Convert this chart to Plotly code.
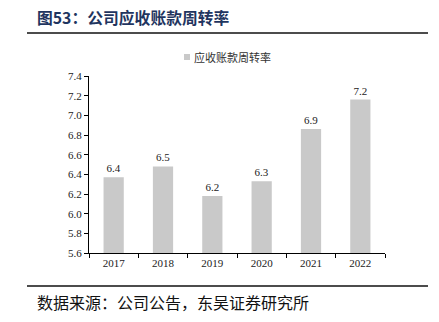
import plotly.graph_objects as go

years = ["2017", "2018", "2019", "2020", "2021", "2022"]
turnover = [6.37, 6.48, 6.18, 6.33, 6.86, 7.16]
labels = ["6.4", "6.5", "6.2", "6.3", "6.9", "7.2"]
y_ticks = [5.6, 5.8, 6.0, 6.2, 6.4, 6.6, 6.8, 7.0, 7.2, 7.4]
series_name = "应收账款周转率"
title_text = "图53：公司应收账款周转率"
source_text = "数据来源：公司公告，东吴证券研究所"

W, H = 439, 322
L, R, T, B = 89, 385, 76, 253
BAR_COLOR = "#c9c9c9"

fig = go.Figure()
fig.add_trace(go.Bar(
    x=years, y=turnover, name=series_name,
    marker=dict(color=BAR_COLOR, line=dict(width=0)),
    width=0.41,
    text=labels, textposition="outside", cliponaxis=False,
    textfont=dict(family="Liberation Serif", size=11, color="#222"),
))

fig.update_layout(
    width=W, height=H,
    margin=dict(l=L, r=W - R, t=T, b=H - B),
    paper_bgcolor="white", plot_bgcolor="white",
    showlegend=False,
)
fig.update_xaxes(
    type="category", showline=True, linecolor="black", linewidth=1,
    ticks="outside", ticklen=4, tickcolor="black", tickson="boundaries",
    tickfont=dict(family="Liberation Serif", size=11, color="#222"),
    showgrid=False,
)
fig.update_yaxes(
    range=[5.6, 7.4], tickvals=y_ticks, ticktext=[f"{v:.1f}" for v in y_ticks],
    showline=True, linecolor="black", linewidth=1,
    ticks="outside", ticklen=4, tickcolor="black",
    tickfont=dict(family="Liberation Serif", size=11, color="#222"),
    showgrid=False, zeroline=False,
)

def fx(p):
    return (p - L) / (R - L)

def fy(p):
    return (B - p) / (B - T)

shapes = [
    dict(type="line", xref="paper", yref="paper",
         x0=fx(27), x1=fx(428), y0=fy(33), y1=fy(33),
         line=dict(color="#111", width=1.5)),
    dict(type="line", xref="paper", yref="paper",
         x0=fx(27), x1=fx(428), y0=fy(286), y1=fy(286),
         line=dict(color="#111", width=1.5)),
    # legend swatch
    dict(type="rect", xref="paper", yref="paper",
         x0=fx(184), x1=fx(190), y0=fy(60), y1=fy(54),
         fillcolor=BAR_COLOR, line=dict(width=0)),
]
fig.update_layout(shapes=shapes)

fig.add_annotation(
    text=series_name, xref="paper", yref="paper",
    x=fx(192), y=fy(57), xanchor="left", yanchor="middle",
    showarrow=False, font=dict(family="Noto Sans CJK SC", size=11, color="#333"),
)
fig.add_annotation(
    text="<b>" + title_text + "</b>", xref="paper", yref="paper",
    x=fx(35), y=fy(18), xanchor="left", yanchor="middle",
    showarrow=False, font=dict(family="Noto Sans CJK SC", size=15.8, color="#1f3560"),
)
fig.add_annotation(
    text=source_text, xref="paper", yref="paper",
    x=fx(35), y=fy(302), xanchor="left", yanchor="middle",
    showarrow=False, font=dict(family="Noto Sans CJK SC", size=16, color="#111"),
)

fig.write_html("out.html")
